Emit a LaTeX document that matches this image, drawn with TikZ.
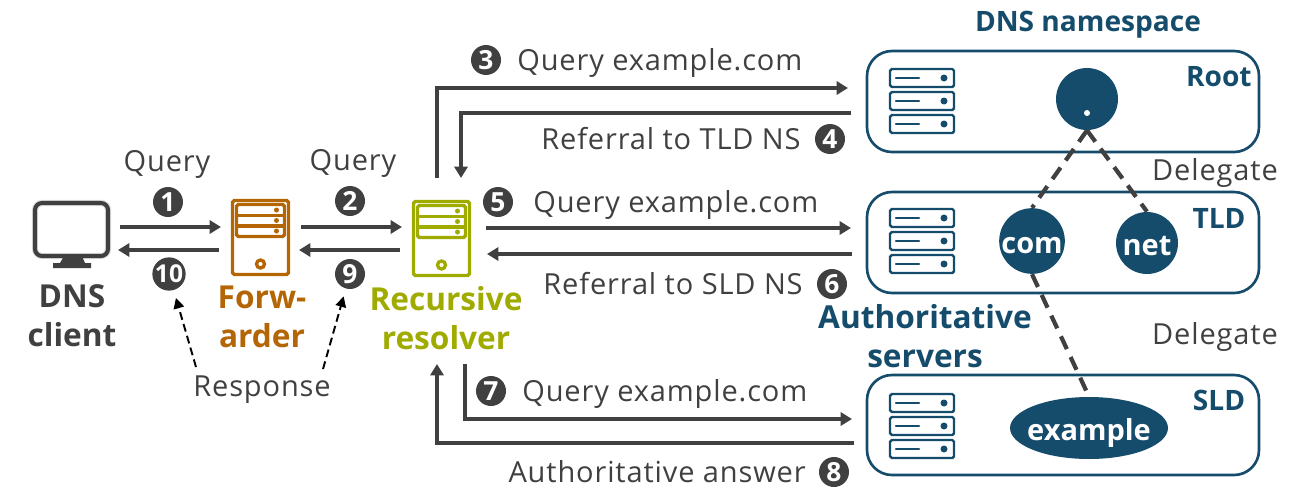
\documentclass[tikz,border=0pt]{standalone}
\usepackage{fontspec}
\setmainfont{Open Sans}
\newfontfamily\spacedfont[LetterSpace=3]{Open Sans}
\usetikzlibrary{arrows.meta,shapes.geometric}
\definecolor{dnsgray}{HTML}{404040}
\definecolor{dnsblue}{HTML}{154C6B}
\definecolor{dnsorange}{HTML}{B46504}
\definecolor{dnsgreen}{HTML}{A0AB00}
\tikzset{
	msg/.style={line width=2.2pt, dnsgray, -{Triangle[length=6.5pt,width=7.5pt]}},
	reply/.style={-{Triangle[length=6pt,width=6pt]}, line width=1.1pt, black, dash pattern=on 4.5pt off 2.5pt, shorten >=4.5pt},
	plain txt/.style={text=dnsgray, font=\fontsize{16.5}{20}\spacedfont},
	bold txt/.style={font=\fontsize{18}{22}\selectfont\bfseries, inner sep=0pt},
	zone txt/.style={text=dnsblue, inner sep=0pt, font=\fontsize{16}{20}\selectfont\bfseries},
	badge/.style={circle, fill=dnsgray, text=white, minimum size=0.6cm, inner sep=0pt, font=\fontsize{15}{15}\selectfont\bfseries},
	zonebox/.style={draw=dnsblue, line width=1.5pt, rounded corners=0.5cm},
	nsdot/.style={circle, fill=dnsblue, text=white, minimum size=1.24cm, inner sep=0pt, text height=0.48cm, text depth=0cm, font=\fontsize{16.5}{20}\selectfont\bfseries},
	delegate/.style={line width=2.4pt, dnsgray, dash pattern=on 8pt off 5pt},
	pics/rackrow/.style={code={
		\draw[dnsblue, line width=1.4pt, rounded corners=1pt, fill=white] (1,1) rectangle (65,19);
		\draw[dnsblue, line width=1.4pt, line cap=round] (7,10) -- (30,10);
		\fill[dnsblue] (55,10) circle (3.5);
	}},
	pics/rackicon/.style={code={
		\pic at (0,0) {rackrow};
		\pic at (0,23) {rackrow};
		\pic at (0,46) {rackrow};
	}},
	pics/towericon/.style={code={
		\draw[#1, line width=1.9pt, rounded corners=1pt] (0,0) rectangle (56,74);
		\draw[#1, line width=1.9pt, rounded corners=1pt] (4,4) rectangle (52,36);
		\draw[#1, line width=1.9pt] (4,15) -- (52,15);
		\draw[#1, line width=1.9pt] (4,25.5) -- (52,25.5);
		\fill[#1] (44,9.5) circle (2.5);
		\fill[#1] (44,20) circle (2.5);
		\fill[#1] (44,30.5) circle (2.5);
		\draw[#1, line width=1.9pt] (28,63.5) circle (4);
	}},
}
\begin{document}
\begin{tikzpicture}[x=0.02cm, y=-0.02cm]
	\useasboundingbox (0,0) rectangle (1307,487);

	% client
	\draw[gray!25, line width=3.6pt, rounded corners=4pt] (35,203) rectangle (108,256);
	\draw[dnsgray, line width=2.3pt, rounded corners=4pt] (35,203) rectangle (108,256);
	\fill[dnsgray] (64,256) -- (82,256) -- (85,263) -- (91,263) -- (91,268) -- (53,268) -- (53,263) -- (60,263) -- cycle;
	\node (clienttxt) [bold txt, text=dnsgray, align=center] at (72,316) {DNS\\client};

	% forwarder and resolver
	\pic at (232.5,200.5) {towericon=dnsorange};
	\node (fwdtxt) [bold txt, text=dnsorange, align=center] at (262,317) {Forw-\\arder};
	\pic at (413.5,201.5) {towericon=dnsgreen};
	\node (restxt) [bold txt, text=dnsgreen, align=center] at (446,318) {Recursive\\resolver};

	% zones
	\draw[zonebox] (867,51) rectangle (1259,152);
	\draw[zonebox] (867,192) rectangle (1259,293);
	\draw[zonebox] (867,375) rectangle (1259,475);
	\pic at (889,68) {rackicon};
	\pic at (889,208) {rackicon};
	\pic at (889,393) {rackicon};
	\node (nstitle) [zone txt] at (1088,25) {DNS namespace};
	\node (roottxt) [zone txt, anchor=east] at (1252,77) {Root};
	\node (tldtxt) [zone txt] at (1219,218) {TLD};
	\node (sldtxt) [zone txt] at (1219,400) {SLD};
	\node (authtxt) [bold txt, text=dnsblue, align=center] at (925,336) {Authoritative\\servers};

	% name tree
	\node (rootns) [nsdot] at (1087,99) {};
	\fill[white] (1087,113) circle (3);
	\node (com) [nsdot] at (1032,241) {com};
	\node (net) [nsdot] at (1147,243) {net};
	\node (example) [nsdot, ellipse, inner xsep=-0.13cm, minimum width=3.16cm, minimum height=1.24cm] at (1089,428) {example};
	\draw[delegate] (rootns.south) -- (com.north);
	\draw[delegate] (rootns.south) -- (net.north);
	\draw[delegate] (com.south) -- (example.north);
	\node (deleg1) [plain txt] at (1215,173) {Delegate};
	\node (deleg2) [plain txt] at (1215,337) {Delegate};

	% free ends
	\coordinate (c1a) at (120,227);
	\coordinate (c1b) at (221,227);
	\coordinate (c10a) at (219,250);
	\coordinate (c10b) at (118,250);
	\coordinate (c2a) at (301,227);
	\coordinate (c2b) at (402,227);
	\coordinate (c9a) at (400,250);
	\coordinate (c9b) at (299,250);
	\coordinate (c3a) at (437,178);
	\coordinate (c3b) at (848,88);
	\coordinate (c4a) at (851,113);
	\coordinate (c4b) at (461,178);
	\coordinate (c5a) at (486,228);
	\coordinate (c5b) at (851,228);
	\coordinate (c6a) at (852,254);
	\coordinate (c6b) at (487,254);
	\coordinate (c7a) at (465,364);
	\coordinate (c7b) at (852,419);
	\coordinate (c8a) at (854,443);
	\coordinate (c8b) at (437,364);

	% messages
	\draw[msg] (c1a) -- (c1b);
	\draw[msg] (c10a) -- (c10b);
	\draw[msg] (c2a) -- (c2b);
	\draw[msg] (c9a) -- (c9b);
	\draw[msg] (c3a) |- (c3b);
	\draw[msg] (c4a) -| (c4b);
	\draw[msg] (c5a) -- (c5b);
	\draw[msg] (c6a) -- (c6b);
	\draw[msg] (c7a) |- (c7b);
	\draw[msg] (c8a) -| (c8b);

	% badges
	\node (n1) [badge] at (168,202) {1};
	\node (n2) [badge] at (350,201) {2};
	\node (n3) [badge] at (486,60) {3};
	\node (n4) [badge] at (830,139) {4};
	\node (n5) [badge] at (498,202) {5};
	\node (n6) [badge] at (832,284) {6};
	\node (n7) [badge] at (491,391) {7};
	\node (n8) [badge] at (834,472) {8};
	\node (n9) [badge] at (350,274) {9};
	\node (n10) [badge, font=\fontsize{14}{14}\selectfont\bfseries] at (169,274) {10};

	% labels
	\node (q1) [plain txt] at (167,164) {Query};
	\node (q2) [plain txt] at (353,163) {Query};
	\node (resp) [plain txt] at (262,390) {Response};
	\node (t3) [plain txt, anchor=west, inner sep=0pt] at (517,63) {Query example.com};
	\node (t4) [plain txt, anchor=east, inner sep=0pt] at (801,139) {Referral to TLD NS};
	\node (t5) [plain txt, anchor=west, inner sep=0pt] at (533,205) {Query example.com};
	\node (t6) [plain txt, anchor=east, inner sep=0pt] at (803,284) {Referral to SLD NS};
	\node (t7) [plain txt, anchor=west, inner sep=0pt] at (522,394) {Query example.com};
	\node (t8) [plain txt, anchor=east, inner sep=0pt] at (806,472) {Authoritative answer};

	% response arrows
	\coordinate (r1) at (196,367);
	\coordinate (r2) at (323,369);
	\draw[reply] (r1) -- (n10);
	\draw[reply] (r2) -- (n9);
\end{tikzpicture}
\end{document}
